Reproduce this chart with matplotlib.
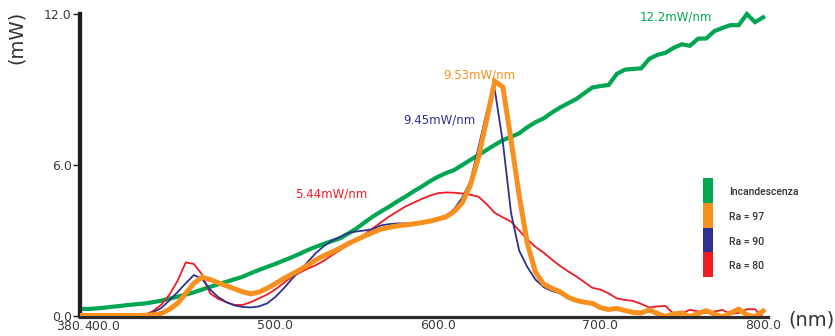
import matplotlib
matplotlib.use("Agg")
import matplotlib.pyplot as plt
from matplotlib.patches import Rectangle

# wavelength grid (nm), 5 nm steps
nm = list(range(380, 805, 5))

incandescenza = [0.28, 0.28, 0.30, 0.33, 0.37, 0.40, 0.44, 0.47, 0.50, 0.55,
                 0.61, 0.69, 0.77, 0.85, 0.94, 1.05, 1.16, 1.26, 1.36, 1.46,
                 1.56, 1.70, 1.83, 1.95, 2.07, 2.20, 2.33, 2.47, 2.62, 2.75,
                 2.87, 2.98, 3.09, 3.28, 3.48, 3.72, 3.95, 4.15, 4.34, 4.55,
                 4.74, 4.95, 5.14, 5.35, 5.53, 5.68, 5.80, 6.00, 6.20, 6.40,
                 6.60, 6.80, 6.99, 7.12, 7.26, 7.50, 7.70, 7.85, 8.08, 8.28,
                 8.45, 8.62, 8.85, 9.08, 9.14, 9.18, 9.62, 9.79, 9.82, 9.84,
                 10.22, 10.38, 10.46, 10.66, 10.80, 10.74, 11.02, 11.03, 11.32, 11.45,
                 11.56, 11.56, 12.00, 11.68, 11.87]

ra97 = [0.02, 0.02, 0.02, 0.02, 0.02, 0.02, 0.02, 0.02, 0.03, 0.05,
        0.10, 0.27, 0.50, 0.90, 1.30, 1.54, 1.45, 1.32, 1.20, 1.08,
        0.96, 0.88, 0.95, 1.10, 1.28, 1.48, 1.65, 1.83, 2.02, 2.23,
        2.40, 2.54, 2.70, 2.88, 3.03, 3.18, 3.32, 3.45, 3.52, 3.58,
        3.62, 3.66, 3.71, 3.77, 3.85, 3.94, 4.15, 4.50, 5.20, 6.30,
        7.80, 9.33, 9.10, 7.00, 4.80, 2.90, 1.75, 1.27, 1.10, 0.97,
        0.75, 0.62, 0.55, 0.50, 0.33, 0.26, 0.30, 0.22, 0.14, 0.12,
        0.24, 0.10, -0.02, 0.08, 0.12, -0.03, 0.10, 0.21, 0.08, -0.04,
        0.12, 0.27, 0.05, -0.03, 0.20]

ra90 = [0.00, 0.00, 0.00, 0.00, 0.00, 0.00, 0.01, 0.02, 0.04, 0.15,
        0.32, 0.62, 0.95, 1.30, 1.63, 1.48, 1.05, 0.75, 0.55, 0.42,
        0.36, 0.34, 0.38, 0.50, 0.75, 1.08, 1.45, 1.80, 2.15, 2.50,
        2.78, 3.00, 3.15, 3.30, 3.36, 3.40, 3.45, 3.60, 3.65, 3.68,
        3.68, 3.68, 3.70, 3.74, 3.82, 3.98, 4.25, 4.70, 5.35, 6.70,
        8.10, 9.00, 6.90, 4.10, 2.60, 1.95, 1.45, 1.15, 1.00, 0.90,
        0.70, 0.58, 0.52, 0.47, 0.30, 0.22, 0.28, 0.20, 0.12, 0.10,
        0.18, 0.05, -0.06, 0.05, 0.10, -0.06, 0.05, 0.18, 0.05, -0.05,
        0.10, 0.22, 0.02, -0.05, 0.15]

ra80 = [0.00, 0.00, 0.00, 0.00, 0.00, 0.00, 0.00, 0.01, 0.05, 0.20,
        0.45, 0.85, 1.40, 2.13, 2.07, 1.65, 0.90, 0.68, 0.55, 0.44,
        0.44, 0.55, 0.70, 0.85, 1.05, 1.30, 1.55, 1.72, 1.88, 2.02,
        2.20, 2.42, 2.62, 2.82, 3.02, 3.25, 3.48, 3.72, 3.95, 4.15,
        4.35, 4.50, 4.65, 4.78, 4.88, 4.91, 4.90, 4.87, 4.82, 4.74,
        4.45, 4.10, 3.92, 3.75, 3.40, 3.05, 2.75, 2.52, 2.25, 2.00,
        1.78, 1.58, 1.35, 1.12, 1.05, 0.90, 0.70, 0.64, 0.60, 0.48,
        0.34, 0.38, 0.40, 0.08, 0.10, 0.25, 0.18, 0.12, 0.18, 0.24,
        0.08, 0.12, 0.27, 0.27, -0.05]

series_names = ["Incandescenza", "Ra = 97", "Ra = 90", "Ra = 80"]
peak_labels = ["12.2mW/nm", "9.53mW/nm", "9.45mW/nm", "5.44mW/nm"]
x_ticks = [500, 600, 700, 800]
y_ticks = [0, 6, 12]

GREEN = "#00a651"
ORANGE = "#f7901e"
NAVY = "#2e3192"
RED = "#ed1c24"
TXT = "#3a3a3a"

W, H = 835, 336
fig = plt.figure(figsize=(W / 100, H / 100), dpi=100)
ax = fig.add_axes([80 / W, 20 / H, 688 / W, 312 / H])
ax.set_xlim(380, 803)
ax.set_ylim(0, 12.4)

ax.plot(nm, incandescenza, color=GREEN, lw=3.0, solid_joinstyle="miter", zorder=2)
ax.plot(nm, ra80, color=RED, lw=1.3, zorder=3)
ax.plot(nm, ra90, color=NAVY, lw=1.3, zorder=4)
ax.plot(nm, ra97, color=ORANGE, lw=3.6, solid_joinstyle="miter", zorder=5)

# peak labels, placed relative to each curve's maximum
offsets = [(-71, -3), (-15, 6), (-55, -30), (-115, -2)]
colors = [GREEN, ORANGE, NAVY, RED]
for vals, lab, off, c in zip([incandescenza, ra97, ra90, ra80], peak_labels, offsets, colors):
    i = vals.index(max(vals))
    ax.annotate(lab, xy=(nm[i], vals[i]), xytext=off, textcoords="offset pixels",
                ha="center", va="center", color=c, fontsize=8.5, family="DejaVu Sans")

for s in ["top", "right"]:
    ax.spines[s].set_visible(False)
ax.spines["left"].set_linewidth(3.1)
ax.spines["left"].set_color("#1e1e1e")
ax.spines["left"].set_bounds(0, 12)
ax.spines["bottom"].set_linewidth(2.3)
ax.spines["bottom"].set_color("#2b2b2b")
ax.spines["bottom"].set_position(("outward", 1))

ax.set_yticks(y_ticks)
ax.set_yticklabels([f"{v:.1f}" for v in y_ticks])
ax.tick_params(axis="y", length=5, width=1, color="#1e1e1e", pad=1,
               labelsize=9, labelcolor=TXT)
ax.set_xticks(x_ticks)
ax.set_xticklabels([f"{v:.1f}" for v in x_ticks])
ax.tick_params(axis="x", length=0, pad=1.5, labelsize=9, labelcolor=TXT)
for txt, xv, ha in [("380.", 382.6, "right"), ("400.0", 382.6, "left")]:
    ax.annotate(txt, xy=(xv, 0), xycoords=("data", "axes fraction"),
                xytext=(0, -4), textcoords="offset pixels", ha=ha, va="top",
                fontsize=9, color=TXT, family="DejaVu Sans", annotation_clip=False)
for lab in ax.get_xticklabels() + ax.get_yticklabels():
    lab.set_family("DejaVu Sans")

fig.text(16 / W, 1 - 37 / H, "(mW)", rotation=90, ha="center", va="center",
         fontsize=14, color="#333333")
fig.text(812 / W, 1 - 320 / H, "(nm)", ha="center", va="center",
         fontsize=14, color="#333333")

# legend blocks
top = 178
for k, (name, c) in enumerate(zip(series_names, colors)):
    y0 = top + k * 24.8
    fig.add_artist(Rectangle((703 / W, 1 - (y0 + 24.8) / H), 10 / W, 24.8 / H,
                             transform=fig.transFigure, color=c, lw=0))
    fig.text(729 / W, 1 - (y0 + 14) / H, name, ha="left", va="center",
             fontsize=7.5, family="Roboto", weight="medium", color="#333333")

fig.savefig("out.png", dpi=100)
